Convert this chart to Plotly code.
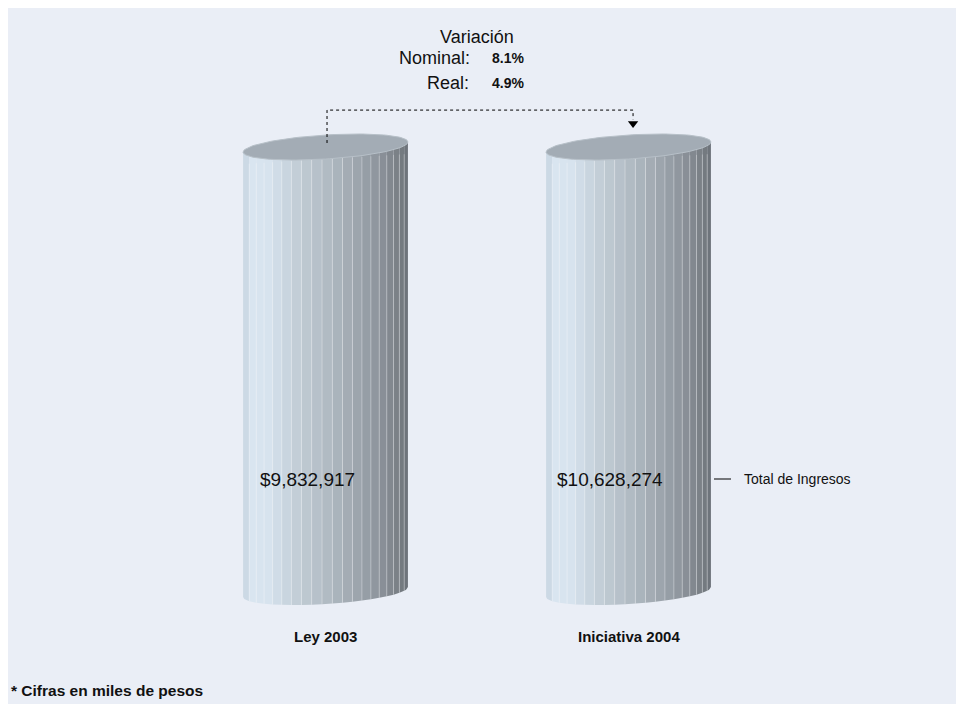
import numpy as np
import plotly.graph_objects as go

# ---------------- data ----------------
categories = ["Ley 2003", "Iniciativa 2004"]
series_name = "Total de Ingresos"
ingresos = [9832917, 10628274]          # miles de pesos
value_labels = ["$9,832,917", "$10,628,274"]
var_nominal = "8.1%"
var_real = "4.9%"
footnote = "* Cifras en miles de pesos"

# single series, 100% stacked column -> share of each column
shares = [100.0 * v / v for v in ingresos]

# ---------------- style ----------------
W, H = 960, 697
BG = "#EAEEF6"
FONT = "Arial, Liberation Sans, sans-serif"
X_PX = 303.0          # px per category step
Y_PX = 4.45           # px per percent
X_MIN = -1.0479
Y_MAX = 131.24
X_RANGE = [X_MIN, X_MIN + W / X_PX]
Y_RANGE = [Y_MAX - H / Y_PX, Y_MAX]
HALF_W = 0.272      # cylinder half width (x units)
ELL_B = 2.70        # ellipse semi-minor (y units)
TILT = 4.15         # perspective tilt (y units per x unit)
N_STRIPS = 20


def pxx(page_x):
    return (page_x - 8) / W


def pyy(page_y):
    return 1 - (page_y - 8) / H


color_stops = [
    (0.00, (198, 212, 224)),
    (0.06, (217, 229, 240)),
    (0.15, (215, 227, 238)),
    (0.25, (203, 215, 225)),
    (0.35, (192, 203, 212)),
    (0.50, (178, 188, 196)),
    (0.62, (165, 174, 182)),
    (0.72, (154, 162, 170)),
    (0.82, (141, 148, 156)),
    (0.91, (127, 133, 140)),
    (1.00, (108, 114, 120)),
]


def color_at(t):
    for (t0, c0), (t1, c1) in zip(color_stops[:-1], color_stops[1:]):
        if t0 <= t <= t1:
            f = (t - t0) / (t1 - t0) if t1 > t0 else 0
            c = [round(a + (b - a) * f) for a, b in zip(c0, c1)]
            return "rgb({},{},{})".format(*c)
    return "rgb({},{},{})".format(*color_stops[-1][1])


fig = go.Figure()

psi = np.linspace(np.radians(-57), np.radians(72), N_STRIPS + 1)
tfrac = (np.sin(psi) - np.sin(psi[0])) / (np.sin(psi[-1]) - np.sin(psi[0]))

for ci, (cat, h) in enumerate(zip(categories, shares)):
    cx = ci
    sep_x, sep_y = [], []
    for i in range(N_STRIPS):
        ta, tb = tfrac[i], tfrac[i + 1]
        ts = np.linspace(ta, tb, 6)
        xs = cx - HALF_W + 2 * HALF_W * ts
        dx = xs - cx
        phi = np.arccos(np.clip(dx / HALF_W, -1, 1))
        ybot = -ELL_B * np.sin(phi) + TILT * dx
        ytop = h + TILT * dx
        px = list(xs) + list(xs[::-1])
        py = list(ytop) + list(ybot[::-1])
        fig.add_trace(go.Scatter(
            x=px + [px[0]], y=py + [py[0]], mode="lines", fill="toself",
            fillcolor=color_at((ta + tb) / 2), line=dict(width=0),
            hoverinfo="skip", showlegend=False))
        if i > 0:
            sep_x += [xs[0], xs[0], None]
            sep_y += [ytop[0] - ELL_B, ybot[0], None]
    fig.add_trace(go.Scatter(
        x=sep_x, y=sep_y, mode="lines",
        line=dict(color="rgba(255,255,255,0.30)", width=1),
        hoverinfo="skip", showlegend=False))
    # top ellipse
    tt = np.linspace(0, 2 * np.pi, 121)
    ex = cx + HALF_W * np.cos(tt)
    ey = h + ELL_B * np.sin(tt) + TILT * HALF_W * np.cos(tt)
    fig.add_trace(go.Scatter(
        x=ex, y=ey, mode="lines", fill="toself", fillcolor="#A3ACB5",
        line=dict(color="#B7C0C8", width=1),
        hoverinfo="skip", showlegend=False))

# connector (variation arrow)
top_l, top_r = shares[0], shares[1]
fig.add_trace(go.Scatter(
    x=[0.005, 0.005, 1.015, 1.015],
    y=[top_l + 0.9, top_l + 8.3, top_l + 8.3, top_r + 6.2],
    mode="lines", line=dict(color="#000000", width=1, dash="dot"),
    hoverinfo="skip", showlegend=False))
fig.add_trace(go.Scatter(
    x=[1.015], y=[top_r + 5.3], mode="markers",
    marker=dict(symbol="triangle-down", size=9, color="#000000"),
    hoverinfo="skip", showlegend=False))

ann = []
# value labels
for i, lab in enumerate(value_labels):
    ann.append(dict(x=i - 0.06, y=25.2, xref="x", yref="y", text=lab, showarrow=False,
                    font=dict(size=19, color="#111111", family=FONT)))
# category labels
for i, cat in enumerate(categories):
    ann.append(dict(x=i, y=pyy(636), xref="x", yref="paper", text="<b>%s</b>" % cat,
                    showarrow=False, yanchor="middle",
                    font=dict(size=15, color="#111111", family=FONT)))
# variation block
ann += [
    dict(x=pxx(477), y=pyy(37), xref="paper", yref="paper", text="Variación",
         showarrow=False, xanchor="center", yanchor="middle",
         font=dict(size=18, color="#111111", family=FONT)),
    dict(x=pxx(472), y=pyy(58), xref="paper", yref="paper", text="Nominal:",
         showarrow=False, xanchor="right", yanchor="middle",
         font=dict(size=18, color="#111111", family=FONT)),
    dict(x=pxx(490), y=pyy(58), xref="paper", yref="paper", text="<b>%s</b>" % var_nominal,
         showarrow=False, xanchor="left", yanchor="middle",
         font=dict(size=14, color="#111111", family=FONT)),
    dict(x=pxx(471), y=pyy(83), xref="paper", yref="paper", text="Real:",
         showarrow=False, xanchor="right", yanchor="middle",
         font=dict(size=18, color="#111111", family=FONT)),
    dict(x=pxx(490), y=pyy(83), xref="paper", yref="paper", text="<b>%s</b>" % var_real,
         showarrow=False, xanchor="left", yanchor="middle",
         font=dict(size=14, color="#111111", family=FONT)),
    # series label
    dict(x=pxx(742), y=pyy(479), xref="paper", yref="paper", text=series_name,
         showarrow=False, xanchor="left", yanchor="middle",
         font=dict(size=14, color="#111111", family=FONT)),
    # footnote
    dict(x=pxx(9), y=pyy(690), xref="paper", yref="paper", text="<b>%s</b>" % footnote,
         showarrow=False, xanchor="left", yanchor="middle",
         font=dict(size=15.5, color="#111111", family=FONT)),
]

fig.update_layout(
    width=W, height=H,
    margin=dict(l=0, r=0, t=0, b=0),
    paper_bgcolor=BG, plot_bgcolor=BG,
    xaxis=dict(range=X_RANGE, visible=False, fixedrange=True),
    yaxis=dict(range=Y_RANGE, visible=False, fixedrange=True),
    annotations=ann,
    shapes=[dict(type="line", xref="paper", yref="paper", x0=pxx(714), x1=pxx(731),
                 y0=pyy(479), y1=pyy(479), line=dict(color="#000000", width=1))],
    showlegend=False,
)

fig.write_html(
    "out.html",
    post_script="document.documentElement.style.overflow='hidden';"
                "document.body.style.width='1000px';"
                "document.body.style.overflow='visible';",
)
